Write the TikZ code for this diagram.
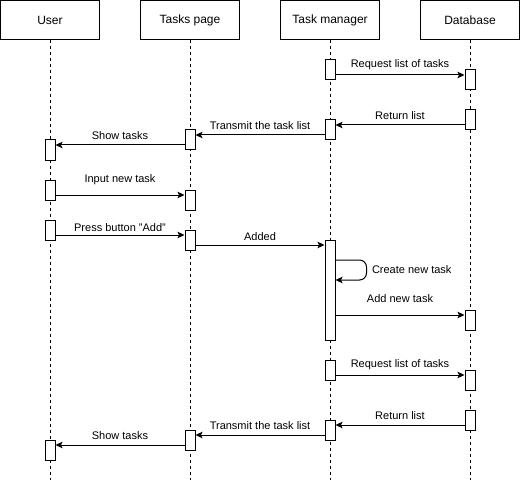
\documentclass[tikz,border=0pt]{standalone}
\usepackage{fontspec}
\setmainfont{Liberation Sans}
\usetikzlibrary{arrows.meta}

\begin{document}
\begin{tikzpicture}[x=1pt, y=-1pt, line width=1pt,
		header/.style={draw, fill=white, minimum width=99pt, minimum height=39pt, inner sep=0pt, font=\fontsize{12}{14}\selectfont},
		act/.style={draw, fill=white, minimum width=10pt, minimum height=20pt, inner sep=0pt},
		msg/.style={-{Stealth[length=7pt,width=6.5pt,inset=1.5pt]}},
		lbl/.style={midway, inner sep=0pt, font=\fontsize{11}{13}\selectfont},
		life/.style={dash pattern=on 3pt off 3pt}]
		\useasboundingbox (0,0) rectangle (521,481);

		% lifelines
		\foreach \x/\name/\title in {50/user/User, 190/page/Tasks page, 330/mgr/Task manager, 470/db/Database} {
			\node [header] (\name) at (\x,20) {\title};
			\coordinate (\name end) at (\x,480);
			\draw [life] (\name.south) -- (\name end);
		}

		% activations
		\node [act] (mgr1) at (330,70) {};
		\node [act] (db1) at (470,80) {};
		\node [act] (db2) at (470,120) {};
		\node [act] (mgr2) at (330,130) {};
		\node [act] (page1) at (190,140) {};
		\node [act] (user1) at (50,150) {};
		\node [act] (user2) at (50,190) {};
		\node [act] (page2) at (190,200) {};
		\node [act] (user3) at (50,230) {};
		\node [act] (page3) at (190,240) {};
		\node [act, minimum height=100pt] (mgr3) at (330,290) {};
		\node [act] (db3) at (470,320) {};
		\node [act] (mgr4) at (330,370) {};
		\node [act] (db4) at (470,380) {};
		\node [act] (db5) at (470,420) {};
		\node [act] (mgr5) at (330,430) {};
		\node [act] (page4) at (190,440) {};
		\node [act] (user4) at (50,450) {};

		% messages
		\draw [msg] ([yshift=-5pt]mgr1.east) -- ([yshift=5pt]db1.west) node [lbl, above=5pt] {Request list of tasks};
		\draw [msg] ([yshift=-5pt]db2.west) -- ([yshift=5pt]mgr2.east) node [lbl, above=5pt] {Return list};
		\draw [msg] ([yshift=-5pt]mgr2.west) -- ([yshift=5pt]page1.east) node [lbl, above=5pt] {Transmit the task list};
		\draw [msg] ([yshift=-5pt]page1.west) -- ([yshift=5pt]user1.east) node [lbl, above=5pt] {Show tasks};
		\draw [msg] ([yshift=-5pt]user2.east) -- ([yshift=5pt]page2.west) node [lbl, above=10pt] {Input new task};
		\draw [msg] ([yshift=-5pt]user3.east) -- ([yshift=5pt]page3.west) node [lbl, above=3pt] {Press button "Add"};
		\draw [msg] ([yshift=-5pt]page3.east) -- ([yshift=45pt]mgr3.west) node [lbl, above=4pt] {Added};
		\draw [msg, rounded corners=7pt] ([yshift=30pt]mgr3.east) -- ++(31,0) -- ++(0,20) node [lbl, right=5pt] {Create new task} -- ([yshift=10pt]mgr3.east);
		\draw [msg] ([yshift=-25pt]mgr3.east) -- ([yshift=5pt]db3.west) node [lbl, above=12pt] {Add new task};
		\draw [msg] ([yshift=-5pt]mgr4.east) -- ([yshift=5pt]db4.west) node [lbl, above=5pt] {Request list of tasks};
		\draw [msg] ([yshift=-5pt]db5.west) -- ([yshift=5pt]mgr5.east) node [lbl, above=5pt] {Return list};
		\draw [msg] ([yshift=-5pt]mgr5.west) -- ([yshift=5pt]page4.east) node [lbl, above=5pt] {Transmit the task list};
		\draw [msg] ([yshift=-5pt]page4.west) -- ([yshift=5pt]user4.east) node [lbl, above=5pt] {Show tasks};
	\end{tikzpicture}
\end{document}
